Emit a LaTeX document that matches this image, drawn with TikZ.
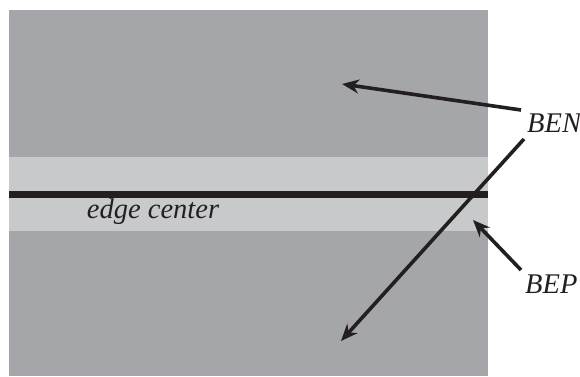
\documentclass[tikz,border=0pt]{standalone}
\usepackage{fontspec}
\setmainfont{Liberation Serif}
\usetikzlibrary{arrows.meta}
\definecolor{darkband}{RGB}{165,166,170}
\definecolor{lightband}{RGB}{200,201,203}
\definecolor{ink}{RGB}{35,31,32}
\tikzset{
  lbl/.style={font=\fontsize{28.5}{30}\selectfont\itshape, text=ink, inner sep=0pt},
  pointer/.style={draw=ink, line width=3.6pt, -{Stealth[length=17pt,width=14pt]}},
}
\begin{document}
\begin{tikzpicture}[x=1pt,y=1pt]
\useasboundingbox (0,0) rectangle (580,376);
% background regions
\fill[darkband] (9,0) rectangle (488,366);
\fill[lightband] (9,145) rectangle (488,219);
\draw[ink, line width=7pt] (9,181.5) -- (488,181.5);
% labels
\node[lbl, anchor=base] (edge) at (153,158) {edge center};
\node[lbl, anchor=base west] (ben) at (527,244) {BEN};
\node[lbl, anchor=base west] (bep) at (525,83) {BEP};
% arrow ends
\coordinate (benA) at (521,266);
\coordinate (benB) at (524,237);
\coordinate (bepA) at (521,106);
\coordinate (tipTop) at (342,292);
\coordinate (tipBot) at (341,35);
\coordinate (tipBep) at (473,156);
\draw[pointer] (benA) -- (tipTop);
\draw[pointer] (benB) -- (tipBot);
\draw[pointer] (bepA) -- (tipBep);
\end{tikzpicture}
\end{document}
